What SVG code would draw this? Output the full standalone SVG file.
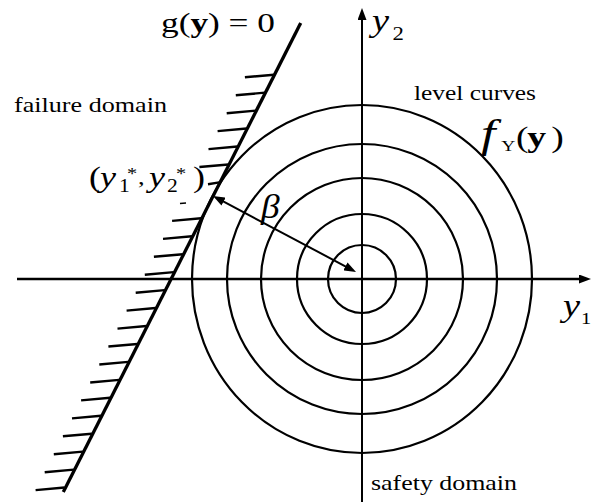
<svg xmlns="http://www.w3.org/2000/svg" width="591" height="502" viewBox="0 0 591 502">
<style>
  .ln{fill:none;stroke:#000;stroke-linecap:butt}
  .ax{stroke-width:2}
  .lc{stroke-width:2.2}
  .txt{font-family:'Liberation Serif',serif;fill:#000}
  .it{font-style:italic}
  .bd{font-weight:bold}
</style>
<defs>
  <marker id="ah" viewBox="0 0 12 9" refX="2" refY="4.5" markerWidth="12" markerHeight="9" markerUnits="userSpaceOnUse" orient="auto-start-reverse">
    <path d="M0,0 L12,4.5 L0,9 z" fill="#000"/>
  </marker>
</defs>
<rect width="591" height="502" fill="#fff"/>

<g id="level-curves" class="ln lc">
  <ellipse cx="362" cy="279" rx="170" ry="174"/>
  <circle cx="362" cy="279" r="135"/>
  <circle cx="362" cy="279" r="101"/>
  <circle cx="362" cy="279" r="65"/>
  <circle cx="362" cy="279" r="34"/>
</g>

<g id="axes" class="ln ax">
  <line x1="17" y1="279" x2="581" y2="279" stroke-width="2.4" marker-end="url(#ah)"/>
  <line x1="362" y1="502" x2="362" y2="18" marker-end="url(#ah)"/>
</g>

<g id="limit-state">
  <line class="ln" x1="300.7" y1="23" x2="63.3" y2="492" stroke-width="3.3"/>
  <path class="ln" stroke-width="2.4" d="M244.9,77.3 L273.9,74.7 M235.8,95.25 L264.8,92.65 M226.7,113.2 L255.7,110.6 M217.6,131.15 L246.6,128.55 M208.5,149.1 L237.5,146.5 M199.4,167.05 L228.4,164.45 M208,184.3 L219.3,182.4 M172.1,220.9 L201.1,218.3 M163,238.85 L192,236.25 M153.9,256.8 L182.9,254.2 M144.8,274.75 L173.8,272.15 M135.7,292.7 L164.7,290.1 M126.6,310.65 L155.6,308.05 M117.5,328.6 L146.5,326 M108.4,346.55 L137.4,343.95 M99.3,364.5 L128.3,361.9 M90.2,382.45 L119.2,379.85 M81.1,400.4 L110.1,397.8 M72,418.35 L101,415.75 M62.9,436.3 L91.9,433.7 M53.8,454.25 L82.8,451.65 M44.7,472.2 L73.7,469.6 M35.6,490.15 L64.6,487.55"/>
  <path class="ln" stroke-width="1.5" d="M180,203.6 L186,203.1"/>
</g>

<g id="connectors">
  <line class="ln" x1="221.8" y1="200.7" x2="347.2" y2="267.3" stroke-width="2" marker-start="url(#ah)" marker-end="url(#ah)"/>
</g>

<g id="labels">
  <text id="lbl-g" class="txt" font-family="Liberation Serif, serif" x="161" y="32" font-size="28" textLength="114" lengthAdjust="spacingAndGlyphs">g(<tspan class="bd">y</tspan>) = 0</text>
  <text id="lbl-failure" class="txt" font-family="Liberation Serif, serif" x="14" y="112" font-size="22" textLength="153" lengthAdjust="spacingAndGlyphs">failure domain</text>
  <text id="lbl-level" class="txt" font-family="Liberation Serif, serif" x="414" y="100" font-size="22" textLength="122" lengthAdjust="spacingAndGlyphs">level curves</text>
  <text id="lbl-safety" class="txt" font-family="Liberation Serif, serif" x="371" y="490" font-size="22" textLength="146" lengthAdjust="spacingAndGlyphs">safety domain</text>
  <text id="lbl-f" class="txt" font-family="Liberation Serif, serif" transform="translate(481,147) scale(1.3,1)" font-size="29"><tspan class="it" x="0" y="0" font-size="40">f</tspan><tspan x="15.5" y="4" font-size="15">Y</tspan><tspan x="27" y="0">(</tspan><tspan class="bd" x="35.5" y="0">y</tspan><tspan x="54" y="0">)</tspan></text>
  <text id="lbl-point" class="txt" font-family="Liberation Serif, serif" transform="translate(89,187) scale(1.2,1)" font-size="30"><tspan x="0" y="0">(</tspan><tspan class="it" x="9.2" y="0">y</tspan><tspan x="25" y="5" font-size="18">1</tspan><tspan x="31.7" y="-8" font-size="17">*</tspan><tspan x="40.8" y="-3" font-size="22">,</tspan><tspan class="it" x="50" y="0">y</tspan><tspan x="65" y="5" font-size="18">2</tspan><tspan x="72.5" y="-8" font-size="17">*</tspan><tspan x="86.7" y="0">)</tspan></text>
  <text id="lbl-beta" class="txt it" font-family="Liberation Serif, serif" transform="translate(261,218) scale(1.1,1)" font-size="34">β</text>
  <text id="lbl-y2" class="txt" font-family="Liberation Serif, serif" transform="translate(372,31) scale(1.2,1)" font-size="32"><tspan class="it" x="0" y="0">y</tspan><tspan x="17" y="9" font-size="19">2</tspan></text>
  <text id="lbl-y1" class="txt" font-family="Liberation Serif, serif" transform="translate(563,316) scale(1.2,1)" font-size="32"><tspan class="it" x="0" y="0">y</tspan><tspan x="15" y="8" font-size="17">1</tspan></text>
</g>
</svg>
